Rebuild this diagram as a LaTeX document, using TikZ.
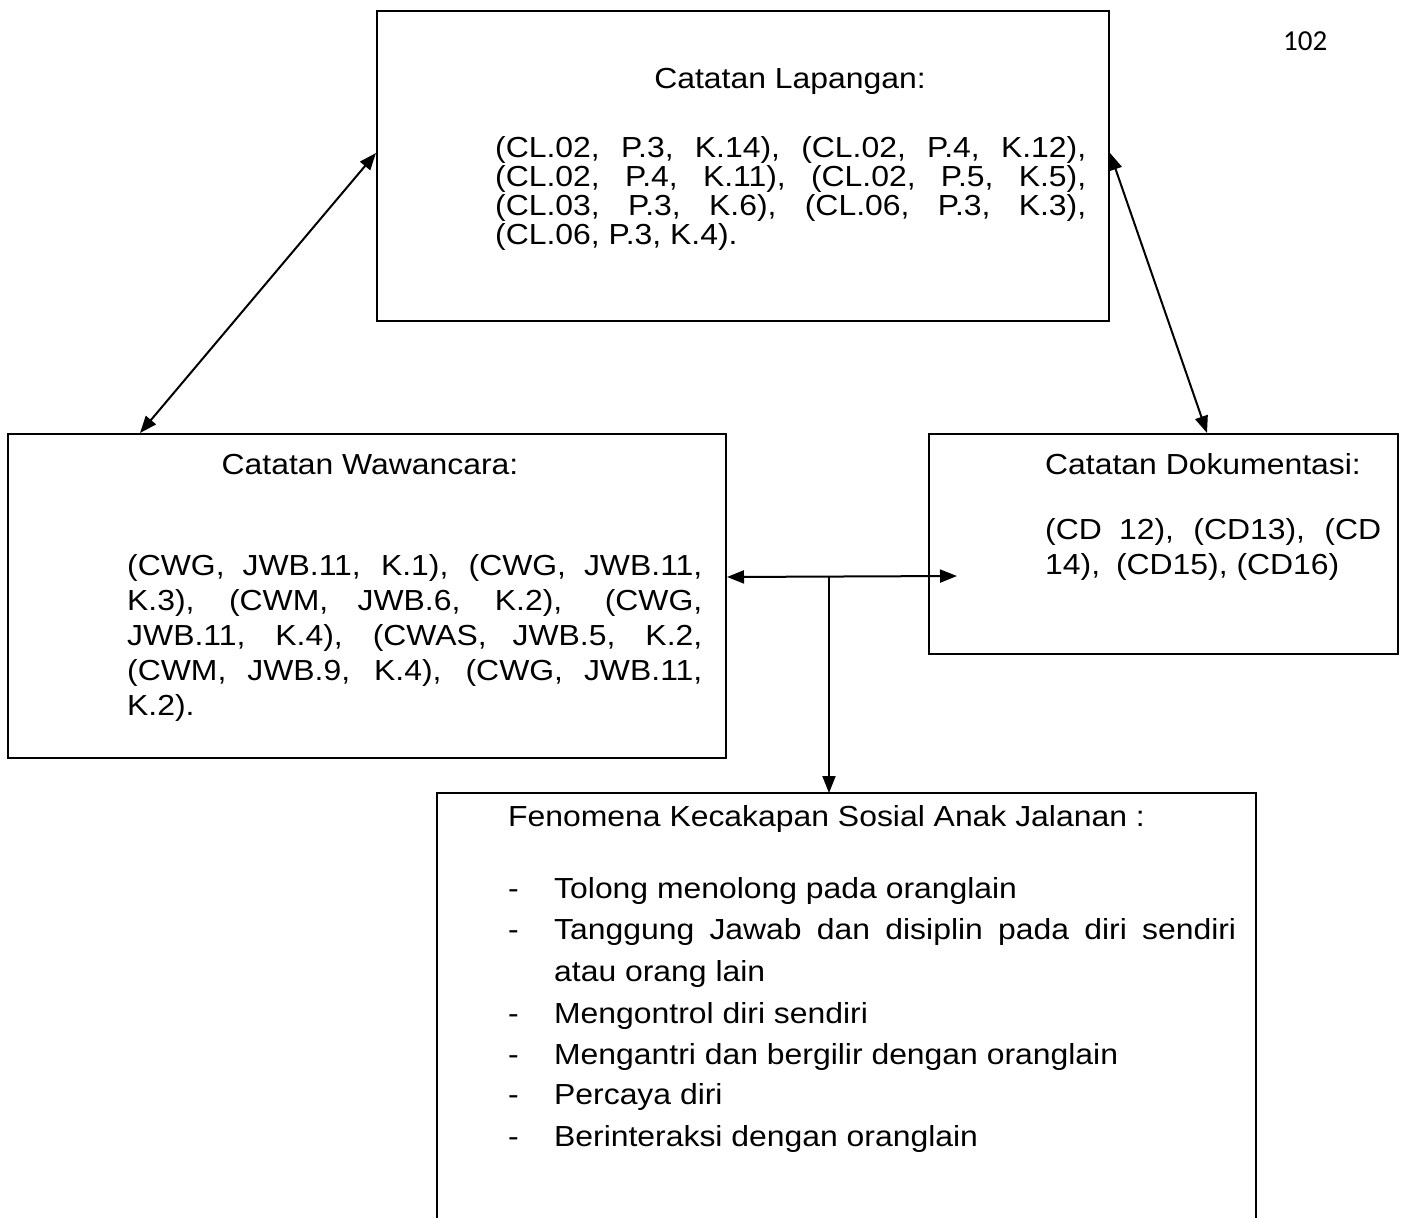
\documentclass[tikz,border=0pt]{standalone}
\usepackage{fontspec}
\setmainfont{Liberation Sans}[FakeStretch=1.10]
\newfontfamily\pagefont{Carlito}
\usetikzlibrary{arrows.meta}
\begin{document}
\begin{tikzpicture}[x=1pt,y=-1pt,
  boxstyle/.style={draw, line width=2pt, inner sep=0pt, anchor=north west},
  txt/.style={inner sep=0pt, anchor=base west, font=\fontsize{29}{33}\selectfont},
  ttl/.style={inner sep=0pt, anchor=base, font=\fontsize{29}{33}\selectfont},
  conn/.style={line width=2pt},
  >={Triangle[length=17pt,width=13pt]}
]
\useasboundingbox[fill=white] (0,0) rectangle (1403,1218);

% page number
\node[inner sep=0pt, anchor=base west, font=\pagefont\fontsize{29}{33}\selectfont] (pg) at (1283,50) {102};

% boxes
\node[boxstyle, minimum width=732pt, minimum height=310pt] (cl) at (376,10) {};
\node[boxstyle, minimum width=718pt, minimum height=324pt] (ww) at (7,433) {};
\node[boxstyle, minimum width=469pt, minimum height=220pt] (doc) at (928,433) {};
\node[inner sep=0pt, anchor=north west, minimum width=819pt, minimum height=425pt] (fen) at (437,793) {};
\draw[line width=2pt] (fen.south west) -- (fen.north west) -- (fen.north east) -- (fen.south east);

% Catatan Lapangan
\node[ttl] (clt) at (790,88) {Catatan Lapangan:};
\node[txt] (cl1) at (495,157) {\makebox[591pt][s]{(CL.02, P.3, K.14), (CL.02, P.4, K.12),}};
\node[txt] (cl2) at (495,186) {\makebox[591pt][s]{(CL.02, P.4, K.11), (CL.02, P.5, K.5),}};
\node[txt] (cl3) at (495,215) {\makebox[591pt][s]{(CL.03, P.3, K.6), (CL.06, P.3, K.3),}};
\node[txt] (cl4) at (495,244) {(CL.06, P.3, K.4).};

% Catatan Wawancara
\node[ttl] (wwt) at (370,474) {Catatan Wawancara:};
\node[txt] (ww1) at (127,575) {\makebox[575pt][s]{(CWG, JWB.11, K.1), (CWG, JWB.11,}};
\node[txt] (ww2) at (127,610) {\makebox[575pt][s]{K.3), (CWM, JWB.6, K.2),\hspace{8pt} (CWG,}};
\node[txt] (ww3) at (127,645) {\makebox[575pt][s]{JWB.11, K.4), (CWAS, JWB.5, K.2,}};
\node[txt] (ww4) at (127,680) {\makebox[575pt][s]{(CWM, JWB.9, K.4), (CWG, JWB.11,}};
\node[txt] (ww5) at (127,715) {K.2).};

% Catatan Dokumentasi
\node[txt] (doct) at (1045,474) {Catatan Dokumentasi:};
\node[txt] (doc1) at (1045,539) {\makebox[336pt][s]{(CD 12), (CD13), (CD}};
\node[txt] (doc2) at (1045,574) {14),\hspace{7pt} (CD15), (CD16)};

% Fenomena
\node[txt] (fent) at (508,826) {Fenomena Kecakapan Sosial Anak Jalanan :};
\node[txt] (f1) at (508,898) {\makebox[46pt][l]{-}Tolong menolong pada oranglain};
\node[txt] (f2) at (508,939) {\makebox[46pt][l]{-}\makebox[682pt][s]{Tanggung Jawab dan disiplin pada diri sendiri}};
\node[txt] (f3) at (554,981) {atau orang lain};
\node[txt] (f4) at (508,1023) {\makebox[46pt][l]{-}Mengontrol diri sendiri};
\node[txt] (f5) at (508,1064) {\makebox[46pt][l]{-}Mengantri dan bergilir dengan oranglain};
\node[txt] (f6) at (508,1104) {\makebox[46pt][l]{-}Percaya diri};
\node[txt] (f7) at (508,1146) {\makebox[46pt][l]{-}Berinteraksi dengan oranglain};

% connectors
\draw[conn,<->] ([yshift=13pt]cl.west) -- ([xshift=133pt]ww.north west);
\draw[conn,<->] ([yshift=13pt]cl.east) -- ([xshift=279pt]doc.north west);
\coordinate (hl) at ([yshift=19pt]ww.east);
\coordinate (hr) at (957,576);
\coordinate (jn) at (829,576);
\draw[conn,<->] (hl) -- (hr);
\draw[conn,->] (jn) -- (jn |- fen.north);
\end{tikzpicture}
\end{document}
